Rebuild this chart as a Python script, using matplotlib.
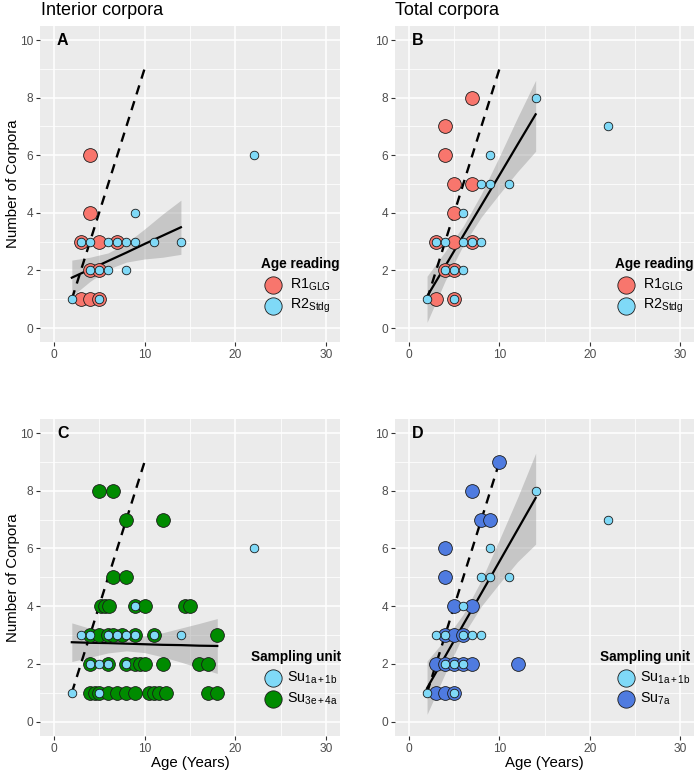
import matplotlib
matplotlib.use("Agg")
import matplotlib.pyplot as plt
import numpy as np

plt.rcParams['font.family'] = ['Liberation Sans', 'DejaVu Sans']
plt.rcParams['mathtext.fontset'] = 'custom'
plt.rcParams['mathtext.rm'] = 'Liberation Sans'
plt.rcParams['mathtext.it'] = 'Liberation Sans:italic'
plt.rcParams['mathtext.bf'] = 'Liberation Sans:bold'

# ---------------- data ----------------
# Panel A (interior corpora): age reading R1 (GLG) and R2 (Stdg)
a_r1_age = [4, 4, 3, 5, 7, 4, 5, 3, 4, 5]
a_r1_corp = [6, 4, 3, 3, 3, 2, 2, 1, 1, 1]
a_r2_age = [22, 9, 3, 4, 6, 7, 8, 9, 11, 14, 4, 5, 6, 8, 2, 5]
a_r2_corp = [6, 4, 3, 3, 3, 3, 3, 3, 3, 3, 2, 2, 2, 2, 1, 1]

# Panel B (total corpora)
b_r1_age = [7, 4, 4, 5, 7, 5, 3, 5, 7, 4, 5, 3, 5]
b_r1_corp = [8, 7, 6, 5, 5, 4, 3, 3, 3, 2, 2, 1, 1]
b_r2_age = [14, 22, 9, 8, 9, 11, 6, 3, 4, 6, 7, 8, 4, 5, 6, 2, 5]
b_r2_corp = [8, 7, 6, 5, 5, 5, 4, 3, 3, 3, 3, 3, 2, 2, 2, 1, 1]

# Panel C (interior corpora by sampling unit)
c_su1_age = a_r2_age
c_su1_corp = a_r2_corp
c_su3_age = [5, 6.5, 8, 12, 6.5, 8,
             5.2, 5.6, 6.1, 9, 10, 14.5, 15,
             4, 5, 6, 6.5, 7.5, 9, 11, 18,
             4, 6, 8, 9, 9.5, 10, 12, 16, 17,
             4, 4.5, 5, 6, 7, 8, 9, 10.5, 11, 11.6, 12.4, 17, 18]
c_su3_corp = [8, 8, 7, 7, 5, 5,
              4, 4, 4, 4, 4, 4, 4,
              3, 3, 3, 3, 3, 3, 3, 3,
              2, 2, 2, 2, 2, 2, 2, 2, 2,
              1, 1, 1, 1, 1, 1, 1, 1, 1, 1, 1, 1, 1]

# Panel D (total corpora by sampling unit)
d_su1_age = b_r2_age
d_su1_corp = b_r2_corp
d_su7_age = [10, 7, 8, 9, 4, 4, 5, 7, 4, 5, 6, 3, 4, 5, 6, 7, 12, 3, 4, 5]
d_su7_corp = [9, 8, 7, 7, 6, 5, 4, 4, 3, 3, 3, 2, 2, 2, 2, 2, 2, 1, 1, 1]

# 1:1 reference (dashed) line
ref_age = [2, 10]
ref_corp = [1, 9]

# fitted linear trends with confidence bands
fit_x_ab = [2, 4, 6, 8, 10, 12, 14]
fit_x_c = [2, 4, 6, 8, 10, 12, 14, 16, 18]
a_fit = [1.75, 2.04, 2.33, 2.62, 2.92, 3.21, 3.50]
a_lo = [1.10, 1.62, 2.05, 2.29, 2.40, 2.46, 2.56]
a_hi = [2.36, 2.46, 2.61, 2.95, 3.44, 3.96, 4.44]
b_fit = [1.10, 2.15, 3.21, 4.26, 5.31, 6.37, 7.42]
b_lo = [0.20, 1.64, 2.88, 3.86, 4.66, 5.43, 6.14]
b_hi = [1.80, 2.66, 3.54, 4.66, 5.96, 7.31, 8.60]
c_fit = [2.75, 2.73, 2.72, 2.70, 2.68, 2.66, 2.65, 2.63, 2.62]
c_lo = [2.08, 2.23, 2.38, 2.45, 2.39, 2.24, 2.06, 1.86, 1.67]
c_hi = [3.42, 3.23, 3.06, 2.95, 2.97, 3.08, 3.24, 3.40, 3.57]
d_fit = [1.16, 2.26, 3.36, 4.45, 5.55, 6.65, 7.75]
d_lo = [0.25, 1.67, 3.00, 4.00, 4.79, 5.54, 6.15]
d_hi = [2.10, 2.85, 3.72, 4.90, 6.31, 7.76, 9.30]

x_ticks = [0, 10, 20, 30]
y_ticks = [0, 2, 4, 6, 8, 10]

# ---------------- style ----------------
RED = '#F8766D'
LBLUE = '#7FD9F7'
GREEN = '#008B00'
DBLUE = '#4F7BE0'
BIG = 98
SMALL = 38

W, H = 696, 775
fig = plt.figure(figsize=(W / 100, H / 100), dpi=100)


def make_ax(l, t, r, b):
    return fig.add_axes([l / W, 1 - b / H, (r - l) / W, (b - t) / H])


def style(ax):
    ax.set_facecolor('#EBEBEB')
    ax.set_xlim(-1.5, 31.5)
    ax.set_ylim(-0.5, 10.5)
    ax.set_xticks(x_ticks)
    ax.set_yticks(y_ticks)
    ax.set_xticks([5, 15, 25], minor=True)
    ax.set_yticks([1, 3, 5, 7, 9], minor=True)
    ax.grid(which='major', color='white', lw=1.1)
    ax.grid(which='minor', color='white', lw=0.55)
    ax.set_axisbelow(True)
    for s in ax.spines.values():
        s.set_visible(False)
    ax.tick_params(which='major', length=3, width=0.8, color='#333333',
                   labelsize=8.6, labelcolor='#4D4D4D', pad=2)
    ax.tick_params(which='minor', length=0)


leg_cols = {'A': [RED, LBLUE], 'B': [RED, LBLUE],
            'C': [LBLUE, GREEN], 'D': [LBLUE, DBLUE]}


def draw(ax, fx, fy, lo, hi, groups, letter, leg_title, leg_labels, leg_pos):
    ax.fill_between(fx, lo, hi, color='#999999', alpha=0.45, lw=0, zorder=2)
    ax.plot(fx, fy, color='black', lw=1.6, zorder=3)
    ax.plot(ref_age, ref_corp, color='black', lw=1.7, ls=(0, (4, 3)), zorder=3)
    for (xs, ys, col, sz) in groups:
        ax.scatter(xs, ys, s=sz, c=col, edgecolors='#1A1A1A', linewidths=0.6,
                   zorder=4)
    ax.text(1, 10, letter, fontsize=11.5, fontweight='bold', ha='center',
            va='center', zorder=5)
    tx, ty, mx, my1, my2, lx = leg_pos
    ax.text(tx, ty, leg_title, transform=ax.transAxes, fontsize=9.8,
            fontweight='bold', ha='left', va='center')
    for (my, col, lab) in zip([my1, my2], leg_cols[letter], leg_labels):
        ax.scatter([mx], [my], s=155, c=col, edgecolors='#1A1A1A',
                   linewidths=0.6, transform=ax.transAxes, clip_on=False,
                   zorder=5)
        ax.text(lx, my, lab, transform=ax.transAxes, fontsize=10.3,
                ha='left', va='center')


axA = make_ax(40, 25.6, 340, 342.5)
axB = make_ax(395.4, 25.6, 694, 342.5)
axC = make_ax(40, 418.6, 340, 736)
axD = make_ax(395.4, 418.6, 694, 736)
for ax in (axA, axB, axC, axD):
    style(ax)

r_labels = [r'R1$_{\mathrm{GLG}}$', r'R2$_{\mathrm{Stdg}}$']

draw(axA, fit_x_ab, a_fit, a_lo, a_hi,
     [(a_r1_age, a_r1_corp, RED, BIG), (a_r2_age, a_r2_corp, LBLUE, SMALL)],
     'A', 'Age reading', r_labels, (0.737, 0.248, 0.776, 0.181, 0.115, 0.833))
draw(axB, fit_x_ab, b_fit, b_lo, b_hi,
     [(b_r1_age, b_r1_corp, RED, BIG), (b_r2_age, b_r2_corp, LBLUE, SMALL)],
     'B', 'Age reading', r_labels, (0.735, 0.248, 0.773, 0.181, 0.115, 0.83))
draw(axC, fit_x_c, c_fit, c_lo, c_hi,
     [(c_su3_age, c_su3_corp, GREEN, BIG), (c_su1_age, c_su1_corp, LBLUE, SMALL)],
     'C', 'Sampling unit', [r'Su$_{\mathrm{1a+1b}}$', r'Su$_{\mathrm{3e+4a}}$'],
     (0.703, 0.25, 0.778, 0.182, 0.117, 0.822))
draw(axD, fit_x_ab, d_fit, d_lo, d_hi,
     [(d_su7_age, d_su7_corp, DBLUE, BIG), (d_su1_age, d_su1_corp, LBLUE, SMALL)],
     'D', 'Sampling unit', [r'Su$_{\mathrm{1a+1b}}$', r'Su$_{\mathrm{7a}}$'],
     (0.685, 0.25, 0.772, 0.182, 0.117, 0.82))

# axis titles
for yc in ((25.6 + 342.5) / 2, (418.6 + 736) / 2):
    fig.text(13 / W, 1 - yc / H, 'Number of Corpora', fontsize=10.8,
             rotation=90, ha='center', va='center')
for xc in ((40 + 340) / 2, (395.4 + 694) / 2):
    fig.text(xc / W, 1 - 763 / H, 'Age (Years)', fontsize=10.8,
             ha='center', va='center')

fig.text(41 / W, 1 - 15 / H, 'Interior corpora', fontsize=13, ha='left',
         va='baseline')
fig.text(395 / W, 1 - 15 / H, 'Total corpora', fontsize=13, ha='left',
         va='baseline')

fig.savefig('out.png', dpi=100)
